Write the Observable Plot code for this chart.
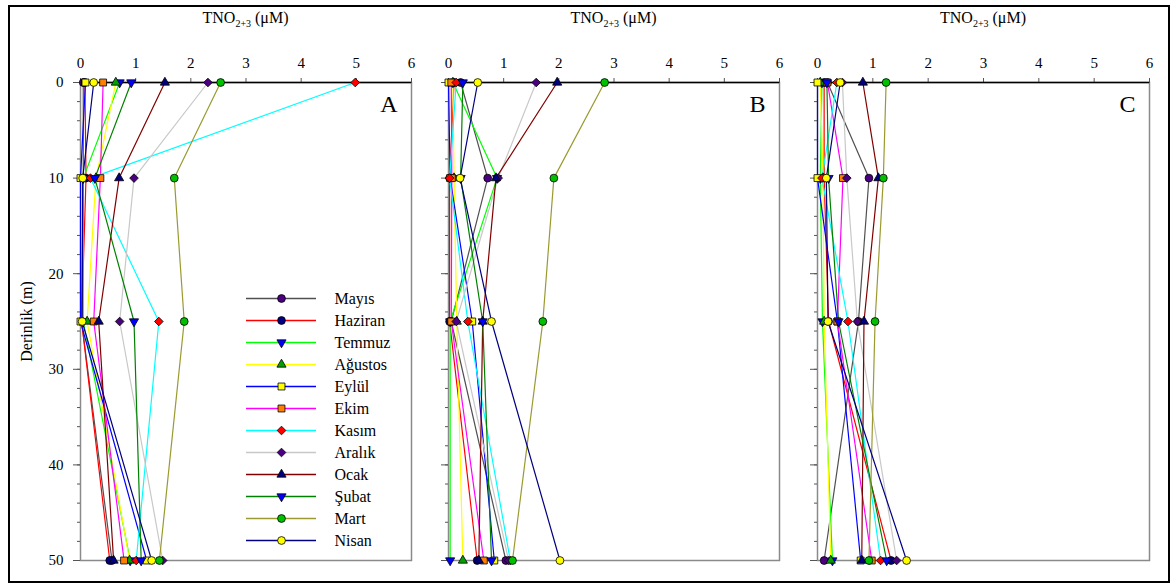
<!DOCTYPE html>
<html><head><meta charset="utf-8">
<script src="https://cdn.jsdelivr.net/npm/d3@7"></script>
<script src="https://cdn.jsdelivr.net/npm/@observablehq/plot@0.6"></script>
<style>
body{margin:0;background:#fff;}
#fig{position:relative;width:1173px;height:586px;font-family:"Liberation Serif","Times New Roman",serif;overflow:hidden;}
#border{position:absolute;left:8px;top:5px;width:1162px;height:578px;border:2px solid #000;box-sizing:border-box;}
.panel{position:absolute;top:0;}
.panel text{font-family:"Liberation Serif","Times New Roman",serif !important;fill:#000;}
.panel g[aria-label="x-axis tick label"] text,
.panel g[aria-label="y-axis tick label"] text{font-size:15px !important;}
.panel g[aria-label="y-axis label"] text{font-size:16px !important;}
.panel g.legend-text text{font-size:16px !important;}
.title{position:absolute;top:9px;font-size:16px;transform:translateX(-50%);white-space:nowrap;color:#000;}
.title sub{font-size:10px;}
</style></head><body><div id="fig"><div id="border"></div></div>
<script>
const depths = [0, 10, 25, 50];
const xTicks = [0, 1, 2, 3, 4, 5, 6];
const yTicks = [0, 10, 20, 30, 40, 50];
const yMinorTicks = d3.range(0, 51, 2);
const months = ["Mayıs","Haziran","Temmuz","Ağustos","Eylül","Ekim","Kasım","Aralık","Ocak","Şubat","Mart","Nisan"];
const lineColors = ["#505050","#ff0000","#00ff00","#ffff00","#0000ff","#ff00ff","#00ffff","#c8c8c8","#800000","#008000","#9a9a30","#000080"];
const markerColors = ["#4b0082","#000080","#0000ff","#00a000","#ffff00","#ff8000","#ff0000","#4b0082","#000080","#0000ff","#00c000","#ffff00"];
const markerSymbols = ["circle","circle","down","triangle","square","square","diamond2","diamond2","triangle","down","circle","circle"];
const panelLetters = ["A","B","C"];

// TNO2+3 values at depths 0,10,25,50 m, per month
const valuesA = [
  [0.05, 0.05, 0.02, 0.57],
  [0.08, 0.10, 0.02, 0.53],
  [0.71, 0.05, 0.05, 0.90],
  [0.64, 0.28, 0.12, 0.89],
  [0.09, 0.00, 0.00, 1.20],
  [0.41, 0.36, 0.24, 0.79],
  [4.98, 0.18, 1.42, 1.01],
  [2.31, 0.97, 0.71, 1.49],
  [1.53, 0.70, 0.33, 0.60],
  [0.92, 0.26, 0.97, 1.10],
  [2.54, 1.70, 1.88, 1.43],
  [0.24, 0.04, 0.03, 1.29]
];
const valuesB = [
  [0.22, 0.71, 0.05, 1.04],
  [0.10, 0.02, 0.02, 0.52],
  [0.08, 0.88, 0.03, 0.03],
  [0.08, 0.10, 0.15, 0.26],
  [0.00, 0.03, 0.43, 0.83],
  [0.05, 0.06, 0.05, 0.64],
  [0.14, 0.02, 0.35, 1.12],
  [1.59, 0.90, 0.14, 1.09],
  [1.97, 0.86, 0.62, 0.55],
  [0.26, 0.22, 0.62, 0.78],
  [2.83, 1.91, 1.71, 1.16],
  [0.53, 0.21, 0.78, 2.02]
];
const valuesC = [
  [0.18, 0.93, 0.74, 0.12],
  [0.12, 0.12, 0.20, 1.33],
  [0.08, 0.05, 0.09, 0.27],
  [0.05, 0.10, 0.12, 0.24],
  [0.00, 0.00, 0.36, 0.78],
  [0.18, 0.46, 0.36, 0.98],
  [0.35, 0.08, 0.55, 1.14],
  [0.45, 0.53, 0.72, 1.43],
  [0.82, 1.10, 0.84, 0.80],
  [0.17, 0.20, 0.38, 1.25],
  [1.24, 1.19, 1.04, 0.93],
  [0.41, 0.16, 0.19, 1.61]
];

const sqrt3 = Math.sqrt(3);
const triangleDown = {
  draw(context, size) {
    const y = -Math.sqrt(size / (sqrt3 * 3));
    context.moveTo(0, -y * 2);
    context.lineTo(-sqrt3 * y, y);
    context.lineTo(sqrt3 * y, y);
    context.closePath();
  }
};
function sym(s){ return s === "down" ? triangleDown : s; }
function symR(s){ return (s === "down" || s === "triangle") ? 3.4 : 3.9; }

const fig = document.getElementById("fig");
const mR = 14;
const panelDefs = [
  {values: valuesA, left: 0, marginLeft: 80, width: 331, first: true},
  {values: valuesB, left: 428, marginLeft: 20, width: 331, first: false},
  {values: valuesC, left: 797, marginLeft: 20, width: 332, first: false}
];

panelDefs.forEach((p, k) => {
  const series = p.values.map((vals, i) => vals.map((v, j) => ({month: months[i], v, d: depths[j]})));
  const marks = [];
  marks.push(Plot.frame({stroke: "#8a8a8a", strokeWidth: 1.5}));
  marks.push(Plot.axisY({ticks: yMinorTicks, tickSize: 3, tickFormat: () => "", label: null, stroke: "#555"}));
  marks.push(Plot.axisY({ticks: yTicks, tickSize: 7, tickPadding: 10,
    tickFormat: p.first ? (d => String(d)) : (() => ""),
    label: p.first ? "Derinlik (m)" : null, labelAnchor: "center", labelOffset: 60, labelArrow: "none", stroke: "#555"}));
  marks.push(Plot.axisX({anchor: "top", ticks: xTicks, tickSize: 5, tickPadding: 10, tickFormat: d => String(d), label: null, stroke: "#555"}));
  series.forEach((s, i) => {
    marks.push(Plot.line(s, {x: "v", y: "d", stroke: lineColors[i], strokeWidth: 1.2}));
  });
  marks.push(Plot.ruleY([0], {stroke: "#000", strokeWidth: 1.5}));
  series.forEach((s, i) => {
    marks.push(Plot.dot(s, {x: "v", y: "d", r: symR(markerSymbols[i]), symbol: sym(markerSymbols[i]), fill: markerColors[i], stroke: "#000", strokeWidth: 0.8}));
  });
  marks.push(Plot.text([panelLetters[k]], {text: d => d, frameAnchor: "top-right", dx: -14, dy: 12, fontSize: 24, lineAnchor: "top", textAnchor: "end"}));

  const chart = Plot.plot({
    width: p.marginLeft + p.width + mR,
    height: 586,
    marginLeft: p.marginLeft,
    marginRight: mR,
    marginTop: 82,
    marginBottom: 26,
    style: {background: "transparent", color: "#000"},
    x: {domain: [0, 6]},
    y: {domain: [0, 50], reverse: true},
    marks
  });
  chart.classList.add("panel");
  chart.style.left = p.left + "px";
  fig.appendChild(chart);

  const t = document.createElement("div");
  t.className = "title";
  t.innerHTML = "TNO<sub>2+3</sub> (μM)";
  t.style.left = (p.left + p.marginLeft + p.width / 2) + "px";
  fig.appendChild(t);
});

// legend inside panel A
const legendMarks = [];
months.forEach((m, i) => {
  legendMarks.push(Plot.ruleY([m], {y: d => d, x1: 0, x2: 1, stroke: lineColors[i], strokeWidth: 1.6}));
  legendMarks.push(Plot.dot([m], {y: d => d, x: 0.5, r: symR(markerSymbols[i]), symbol: sym(markerSymbols[i]), fill: markerColors[i], stroke: "#000", strokeWidth: 0.8}));
  legendMarks.push(Plot.text([m], {y: d => d, x: 1, text: d => d, dx: 18, textAnchor: "start", fontSize: 16, className: "legend-text"}));
});
const legend = Plot.plot({
  width: 421, height: 586, margin: 0,
  style: {background: "transparent", color: "#000"},
  x: {domain: [0, 1], range: [246, 316], axis: null},
  y: {type: "point", domain: months, range: [296, 541], padding: 0, axis: null},
  marks: legendMarks
});
legend.classList.add("panel");
legend.style.left = "0px";
legend.querySelectorAll("text").forEach(el => el.style.fontSize = "16px");
fig.appendChild(legend);
</script></body></html>
